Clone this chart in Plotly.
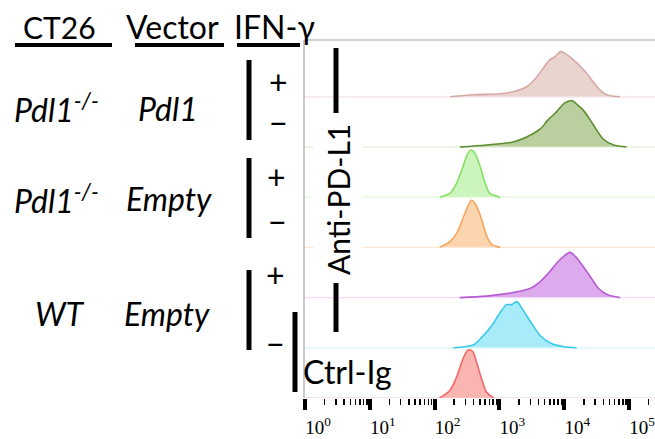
import plotly.graph_objects as go

# ---------------- data (log10 fluorescence, height as fraction of a row) -------------
row_labels = ["Pdl1-/- Pdl1 IFN+", "Pdl1-/- Pdl1 IFN-", "Pdl1-/- Empty IFN+",
              "Pdl1-/- Empty IFN-", "WT Empty IFN+", "WT Empty IFN-", "Ctrl-Ig"]

r1_logx = [2.24, 2.60, 3.01, 3.21, 3.42, 3.58, 3.68, 3.78, 3.86, 3.94, 3.99, 4.04, 4.12, 4.22, 4.35, 4.48, 4.58, 4.71, 4.86]
r1_h    = [0.00, 0.04, 0.06, 0.10, 0.20, 0.40, 0.58, 0.74, 0.80, 0.90, 0.88, 0.84, 0.76, 0.64, 0.46, 0.24, 0.10, 0.02, 0.00]

r2_logx = [2.39, 2.80, 3.21, 3.42, 3.63, 3.75, 3.88, 4.01, 4.12, 4.22, 4.29, 4.40, 4.50, 4.60, 4.76, 4.96]
r2_h    = [0.00, 0.04, 0.10, 0.20, 0.36, 0.54, 0.70, 0.88, 0.92, 0.82, 0.74, 0.54, 0.34, 0.16, 0.04, 0.00]

r3_logx = [2.08, 2.24, 2.34, 2.42, 2.50, 2.56, 2.62, 2.70, 2.78, 2.85, 3.01]
r3_h    = [0.00, 0.08, 0.28, 0.54, 0.84, 0.94, 0.88, 0.62, 0.28, 0.08, 0.00]

r4_logx = [2.08, 2.24, 2.34, 2.45, 2.52, 2.57, 2.64, 2.73, 2.80, 2.88, 3.01]
r4_h    = [0.00, 0.12, 0.28, 0.62, 0.84, 0.94, 0.84, 0.54, 0.24, 0.06, 0.00]

r5_logx = [2.39, 2.80, 3.21, 3.47, 3.63, 3.75, 3.88, 3.99, 4.09, 4.17, 4.27, 4.40, 4.53, 4.66, 4.86]
r5_h    = [0.00, 0.03, 0.10, 0.18, 0.32, 0.48, 0.68, 0.82, 0.90, 0.82, 0.66, 0.42, 0.18, 0.06, 0.00]

r6_logx = [2.29, 2.60, 2.75, 2.88, 3.01, 3.11, 3.19, 3.27, 3.34, 3.47, 3.63, 3.78, 3.99, 4.19]
r6_h    = [0.00, 0.06, 0.24, 0.44, 0.70, 0.86, 0.86, 0.92, 0.80, 0.54, 0.24, 0.10, 0.02, 0.00]

r7_logx = [2.08, 2.24, 2.34, 2.45, 2.52, 2.59, 2.65, 2.73, 2.80, 2.91]
r7_h    = [0.00, 0.16, 0.42, 0.82, 0.96, 0.92, 0.70, 0.36, 0.12, 0.00]

tick_exponents = [0, 1, 2, 3, 4, 5]
tick_labels = ["10<sup>0</sup>", "10<sup>1</sup>", "10<sup>2</sup>",
               "10<sup>3</sup>", "10<sup>4</sup>", "10<sup>5</sup>"]

line_colors = ["#d6a7a3", "#5d8d2c", "#84e262", "#f6a55c", "#b65bd2", "#36caee", "#f26868"]
fill_colors = ["#ead4d0", "#b9cfa0", "#ccf5bd", "#fcd5ae", "#ddabed", "#a8ecfa", "#fab4b1"]
base_colors = ["#f2e2e2", "#dfe9d3", "#e2f8da", "#fde7d6", "#f2dbf9", "#d6f5fc", "#f9caca"]

rows_x = [r1_logx, r2_logx, r3_logx, r4_logx, r5_logx, r6_logx, r7_logx]
rows_h = [r1_h, r2_h, r3_h, r4_h, r5_h, r6_h, r7_h]

# ---------------- layout geometry ----------------
W, H = 655, 439
L, R, T, B = 304, 0, 40, 41
PW = W - L - R
PH = H - T - B
ROW_PX = 50.2
X_RANGE = [-0.015, 5.40]

def px(x):
    return (x - L) / PW

def py(y):
    return (H - B - y) / PH

fig = go.Figure()
n = len(rows_x)
for i in range(n):
    off = (n - 1) - i
    fig.add_trace(go.Scatter(
        x=[10 ** X_RANGE[0], 10 ** X_RANGE[1]], y=[off, off], mode="lines",
        line=dict(color=base_colors[i], width=1.2), hoverinfo="skip", showlegend=False))
    fig.add_trace(go.Scatter(
        x=[10 ** v for v in rows_x[i]], y=[off + h for h in rows_h[i]],
        mode="lines", line=dict(color=line_colors[i], width=1.6, shape="spline", smoothing=0.8),
        fill="tonexty", fillcolor=fill_colors[i], name=row_labels[i], showlegend=False))

minor_vals = [m * 10 ** e for e in range(-1, 6) for m in range(2, 10)]

FONT = "Lato"
FS = 32
ann = []
def add_text(text, x, y, size=FS, xanchor="center", angle=0, bg=None):
    d = dict(text=text, x=px(x), y=py(y), xref="paper", yref="paper", showarrow=False,
             xanchor=xanchor, yanchor="middle", textangle=angle,
             font=dict(family=FONT, size=size, color="black"))
    if bg:
        d["bgcolor"] = bg
        d["borderpad"] = 6
    ann.append(d)

add_text("CT26", 60, 27, size=30)
add_text("Vector", 172, 27)
add_text("IFN-γ", 274, 27)
add_text("<i>Pdl1<sup>-/-</sup></i>", 56, 108)
add_text("<i>Pdl1</i>", 168, 108)
add_text("<i>Pdl1<sup>-/-</sup></i>", 56, 199)
add_text("<i>Empty</i>", 169, 199)
add_text("<i>WT</i>", 60, 313)
add_text("<i>Empty</i>", 167, 313)
add_text("+", 278, 81)
add_text("−", 278, 122)
add_text("+", 276, 176)
add_text("−", 277, 221)
add_text("+", 275, 274)
add_text("−", 275, 343)
add_text("Anti-PD-L1", 338, 200, size=30, angle=-90, bg="white")
add_text("Ctrl-Ig", 301, 371, xanchor="left")

shapes = []
def seg(x0, y0, x1, y1, w, color="black"):
    shapes.append(dict(type="line", xref="paper", yref="paper",
                       x0=px(x0), y0=py(y0), x1=px(x1), y1=py(y1),
                       line=dict(color=color, width=w)))

# underlines
seg(15, 45, 112, 45, 4)
seg(135, 45, 224, 45, 4)
seg(237, 45, 300, 45, 4)
# group bars
seg(249, 60, 249, 140, 5)
seg(249, 158, 249, 238, 5)
seg(249, 270, 249, 350, 5)
seg(295, 312, 295, 392, 5)
# anti-PD-L1 bracket lines
seg(336, 48, 336, 113, 5)
seg(336, 283, 336, 332, 5)
# frame
seg(304, 40, 304, 398, 1.2, "#a8a8a8")
seg(304, 40, 655, 40, 1.2, "#a8a8a8")

fig.update_layout(
    template="none",
    width=W, height=H,
    margin=dict(l=L, r=R, t=T, b=B, autoexpand=False),
    paper_bgcolor="white", plot_bgcolor="white",
    annotations=ann, shapes=shapes,
    xaxis=dict(type="log", range=X_RANGE, showgrid=False, zeroline=False, showline=False,
               automargin=False, ticklabeloverflow="allow",
               tickmode="array", tickvals=[10 ** e for e in tick_exponents], ticktext=tick_labels,
               ticks="outside", ticklen=11, tickwidth=4, tickcolor="black",
               tickfont=dict(family="Liberation Serif", size=19, color="black"),
               ticklabelshift=13, ticklabelstandoff=1,
               minor=dict(ticks="outside", ticklen=6, tickwidth=1.5, tickcolor="black",
                          tickmode="array", tickvals=minor_vals, showgrid=False)),
    yaxis=dict(range=[0, PH / ROW_PX], visible=False, showgrid=False, zeroline=False,
               fixedrange=True, automargin=False),
)

fig.write_html("out.html", config={"displayModeBar": False, "staticPlot": True},
               post_script="document.body.style.margin='0';document.body.style.overflow='hidden';")
